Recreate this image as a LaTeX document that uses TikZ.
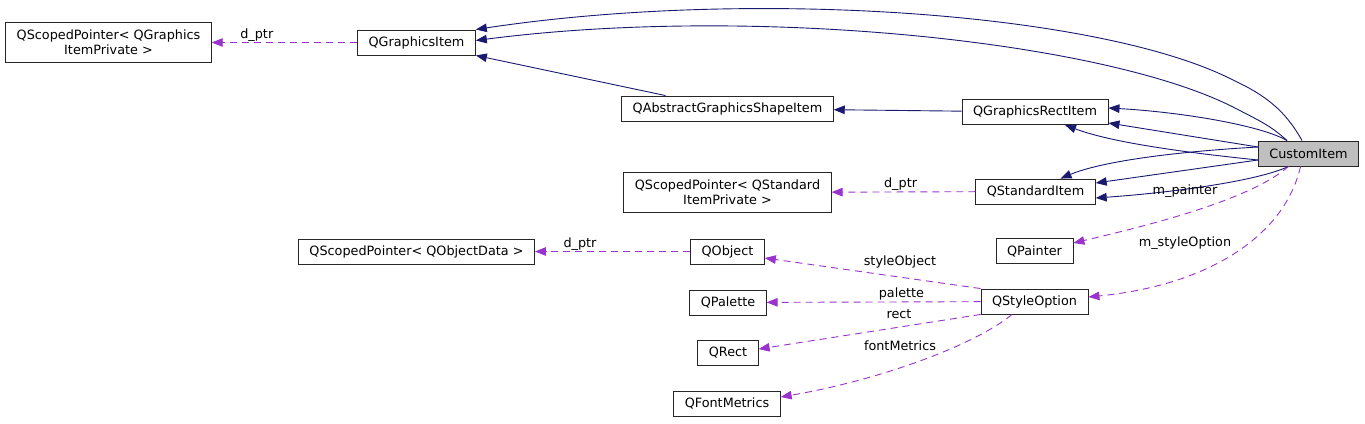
\documentclass[tikz,border=0pt]{standalone}
\usepackage{fontspec}
\setmainfont{DejaVu Sans}
\usetikzlibrary{arrows.meta}
\definecolor{navy}{HTML}{191970}
\definecolor{orchid}{HTML}{9A32CD}

\begin{document}
\begin{tikzpicture}[x=1pt, y=-1pt, >={Triangle[length=11pt, width=8.5pt]},
    cls/.style={draw=black!85, fill=white, line width=0.9pt,
        font=\fontsize{12.8}{15}\selectfont, inner xsep=11pt, minimum height=25pt},
    cls2/.style={cls, align=center, minimum height=40pt},
    hl/.style={cls, fill=black!25},
    inh/.style={->, color=navy, line width=0.9pt},
    use/.style={->, color=orchid, line width=0.9pt, dash pattern=on 7pt off 5pt},
    lbl/.style={text=black, font=\fontsize{12.8}{15}\selectfont, inner sep=1pt}]
            \useasboundingbox (0,0) rectangle (1365,423);

            \node[cls2] (gpriv) at (108.5,42.5) {QScopedPointer< QGraphics\\ItemPrivate >};
            \node[cls] (gitem) at (416.5,42.5) {QGraphicsItem};
            \node[cls] (shape) at (727.5,108.5) {QAbstractGraphicsShapeItem};
            \node[cls] (grect) at (1035,112) {QGraphicsRectItem};
            \node[hl] (cust) at (1308.5,153.5) {CustomItem};
            \node[cls2] (spriv) at (727.5,192.5) {QScopedPointer< QStandard\\ItemPrivate >};
            \node[cls] (std) at (1035.5,191.5) {QStandardItem};
            \node[cls] (painter) at (1034.5,251) {QPainter};
            \node[cls] (opriv) at (416.5,251.5) {QScopedPointer< QObjectData >};
            \node[cls] (qobj) at (727.5,251.5) {QObject};
            \node[cls] (sopt) at (1034.5,301.5) {QStyleOption};
            \node[cls] (pal) at (728,302.5) {QPalette};
            \node[cls] (rect) at (728,353) {QRect};
            \node[cls] (fm) at (727,403.5) {QFontMetrics};

            % base classes
            \draw[inh] ([xshift=-6.5pt]cust.north) .. controls (1285,110) and (1265,95) .. (1233,80)
                .. controls (1100,12) and (750,-12) .. ([yshift=13pt]gitem.east);
            \draw[inh] ([xshift=-21.5pt]cust.north) .. controls (1270,125) and (1258,120) .. (1233,107)
                .. controls (1100,40) and (750,5) .. ([yshift=2pt]gitem.east);
            \draw[inh] ([xshift=-21.5pt]cust.north) .. controls (1260,125) and (1180,112) .. ([yshift=4pt]grect.east);
            \path[inh] ([yshift=6.5pt]cust.west) edge ([yshift=-11pt]grect.east);
            \draw[inh] ([yshift=-6.5pt]cust.west) .. controls (1180,152) and (1110,142) .. ([xshift=30pt]grect.south);
            \draw[inh] ([yshift=6.5pt]cust.west) .. controls (1170,152) and (1100,162) .. ([xshift=25pt]std.north);
            \path[inh] ([yshift=-6.5pt]cust.west) edge ([yshift=8.5pt]std.east);
            \draw[inh] ([xshift=-20pt]cust.south) .. controls (1260,180) and (1180,192) .. ([yshift=-6.5pt]std.east);
            \path[inh] (grect) edge (shape);
            \path[inh] ([xshift=-62pt]shape.north) edge (gitem.south east);

            % members
            \path[use] (gitem) edge node[lbl, pos=.69, above] {d\_ptr} (gpriv);
            \path[use] (std) edge node[lbl, pos=.52, above] {d\_ptr} (spriv);
            \path[use] (qobj) edge node[lbl, pos=.71, above] {d\_ptr} (opriv);
            \draw[use] ([xshift=-20pt]cust.south) .. controls (1250,200) and (1150,225) .. ([yshift=8pt]painter.east);
            \node[lbl] (lpaint) at (1185,191) {m\_painter};
            \draw[use] ([xshift=-8pt]cust.south) .. controls (1285,235) and (1210,285) .. ([yshift=4.5pt]sopt.east);
            \node[lbl] (lsopt) at (1185,243) {m\_styleOption};
            \path[use] (sopt.north west) edge ([yshift=-6.5pt]qobj.east);
            \node[lbl] (lobj) at (900,262) {styleObject};
            \path[use] (sopt) edge node[lbl, pos=.37, above] {palette} (pal);
            \path[use] (sopt.south west) edge ([yshift=4pt]rect.east);
            \node[lbl] (lrect) at (899,314) {rect};
            \draw[use] ([xshift=-22.5pt]sopt.south) .. controls (975,345) and (880,380) .. ([yshift=6.5pt]fm.east);
            \node[lbl] (lfm) at (900,346) {fontMetrics};
        \end{tikzpicture}
\end{document}
